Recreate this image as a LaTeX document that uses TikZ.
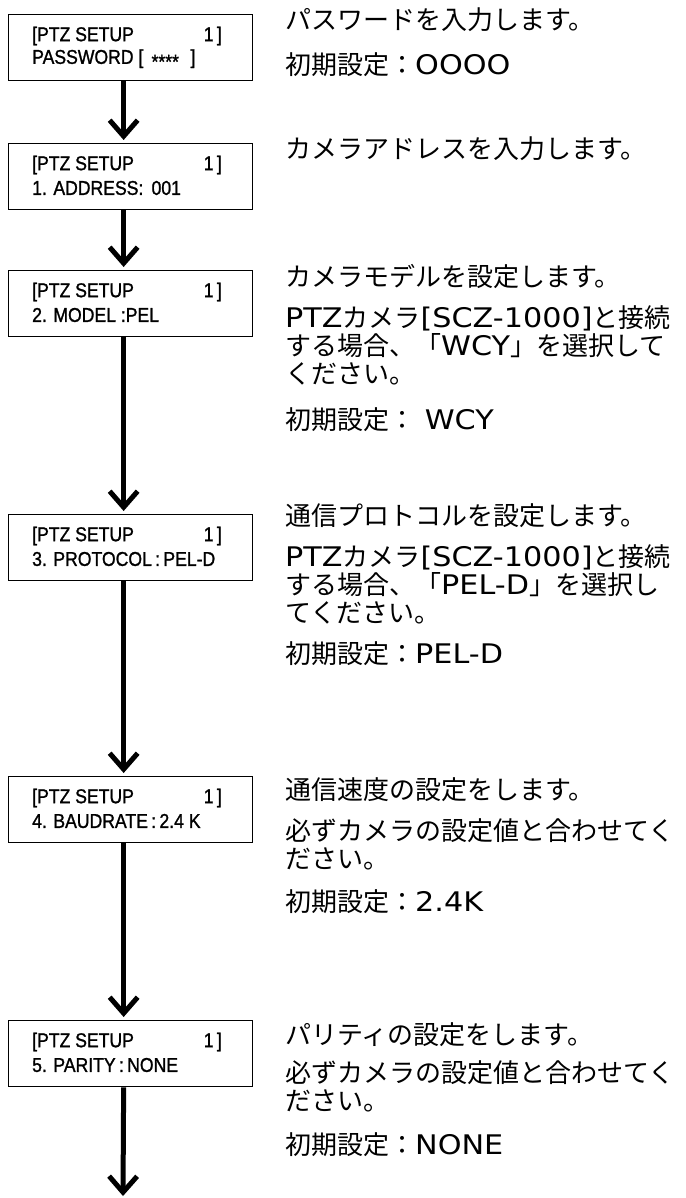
\documentclass[tikz,border=0pt]{standalone}
\usepackage{fontspec}
\usepackage{graphicx}
\newfontfamily\jpfont{Noto Sans CJK JP}
\newfontfamily\latfont[FakeStretch=1.12]{DejaVu Sans}
\newfontfamily\lcdfont[FakeStretch=0.88,FakeBold=1.2]{Liberation Sans}
\newcommand{\lat}[1]{{\latfont\fontsize{27}{28}\selectfont #1}}
\usetikzlibrary{arrows.meta,backgrounds}
\begin{document}
\begin{tikzpicture}[x=1pt,y=-1pt,
  lcd/.style={draw=black, line width=1.3pt, minimum width=244pt, minimum height=66pt, anchor=north west, inner sep=0pt, fill=white},
  lcdtxt/.style={font=\lcdfont\fontsize{20}{20}\selectfont, anchor=west, inner sep=0pt},
  jp/.style={font=\jpfont\fontsize{26}{28}\selectfont, anchor=base west, inner sep=0pt, align=left},
  flow/.style={line width=5pt, -{Straight Barb[length=16pt, width=28pt]}}
]
\useasboundingbox (0,0) rectangle (685,1198);
\fill[white] (0,0) rectangle (685,1198);
% boxes
\node[lcd] (b1) at (8,14) {};
\node[lcd] (b2) at (8,143) {};
\node[lcd] (b3) at (8,270) {};
\node[lcd] (b4) at (8,514) {};
\node[lcd] (b5) at (8,776) {};
\node[lcd] (b6) at (8,1020) {};
\begin{scope}[on background layer]
\foreach \b in {b1,b2,b3,b4,b5,b6}{
  \fill[black!45] ([shift={(3pt,-3pt)}]\b.north west) rectangle ([shift={(3pt,-3pt)}]\b.south east);
}
\end{scope}
% box texts
\node[lcdtxt] (t1a) at (32,36) {[PTZ SETUP};
\node[lcdtxt,anchor=east] (t1b) at (222,36) {1\,]};
\node[lcdtxt] (t1c) at (32,59) {PASSWORD [\, \raisebox{-0.45ex}{****}\,\, ]};
\node[lcdtxt] (t2a) at (32,165) {[PTZ SETUP};
\node[lcdtxt,anchor=east] (t2b) at (222,165) {1\,]};
\node[lcdtxt] (t2c) at (32,188) {1. ADDRESS:\, 001};
\node[lcdtxt] (t3a) at (32,292) {[PTZ SETUP};
\node[lcdtxt,anchor=east] (t3b) at (222,292) {1\,]};
\node[lcdtxt] (t3c) at (32,315) {2. MODEL :PEL};
\node[lcdtxt] (t4a) at (32,536) {[PTZ SETUP};
\node[lcdtxt,anchor=east] (t4b) at (222,536) {1\,]};
\node[lcdtxt] (t4c) at (32,559) {3. PROTOCOL\,:\,PEL-D};
\node[lcdtxt] (t5a) at (32,798) {[PTZ SETUP};
\node[lcdtxt,anchor=east] (t5b) at (222,798) {1\,]};
\node[lcdtxt] (t5c) at (32,821) {4. BAUDRATE\,:\,2.4 K};
\node[lcdtxt] (t6a) at (32,1042) {[PTZ SETUP};
\node[lcdtxt,anchor=east] (t6b) at (222,1042) {1\,]};
\node[lcdtxt] (t6c) at (32,1065) {5. PARITY\,:\,NONE};
% arrows
\draw[flow] ([xshift=-7pt]b1.south) -- ([xshift=-7pt,yshift=3pt]b2.north);
\draw[flow] ([xshift=-7pt]b2.south) -- ([xshift=-7pt,yshift=3pt]b3.north);
\draw[flow] ([xshift=-7pt]b3.south) -- ([xshift=-7pt,yshift=3pt]b4.north);
\draw[flow] ([xshift=-7pt]b4.south) -- ([xshift=-7pt,yshift=3pt]b5.north);
\draw[flow] ([xshift=-7pt]b5.south) -- ([xshift=-7pt,yshift=3pt]b6.north);
\coordinate (endpt) at (123,1196);
\draw[flow] ([xshift=-7pt]b6.south) -- (endpt);
% right texts
\node[jp] (r1a) at (285,30) {パスワードを入力します。};
\node[jp] (r1b) at (285,75) {初期設定：\lat{OOOO}};
\node[jp] (r2a) at (285,159) {カメラアドレスを入力します。};
\node[jp] (r3a) at (285,286) {カメラモデルを設定します。};
\node[jp] (r3b) at (285,383) {\lat{PTZ}カメラ\lat{[SCZ-1000]}と接続\\する場合、「\lat{WCY}」を選択して\\ください。};
\node[jp] (r3e) at (285,429) {初期設定：\lat{\ WCY}};
\node[jp] (r4a) at (285,525) {通信プロトコルを設定します。};
\node[jp] (r4b) at (285,622) {\lat{PTZ}カメラ\lat{[SCZ-1000]}と接続\\する場合、「\lat{PEL-D}」を選択し\\てください。};
\node[jp] (r4e) at (285,663) {初期設定：\lat{PEL-D}};
\node[jp] (r5a) at (285,799) {通信速度の設定をします。};
\node[jp] (r5b) at (285,868) {必ずカメラの設定値と合わせてく\\ださい。};
\node[jp] (r5d) at (285,911) {初期設定：\lat{2.4K}};
\node[jp] (r6a) at (285,1044) {パリティの設定をします。};
\node[jp] (r6b) at (285,1110) {必ずカメラの設定値と合わせてく\\ださい。};
\node[jp] (r6d) at (285,1154) {初期設定：\lat{NONE}};
\end{tikzpicture}
\end{document}
